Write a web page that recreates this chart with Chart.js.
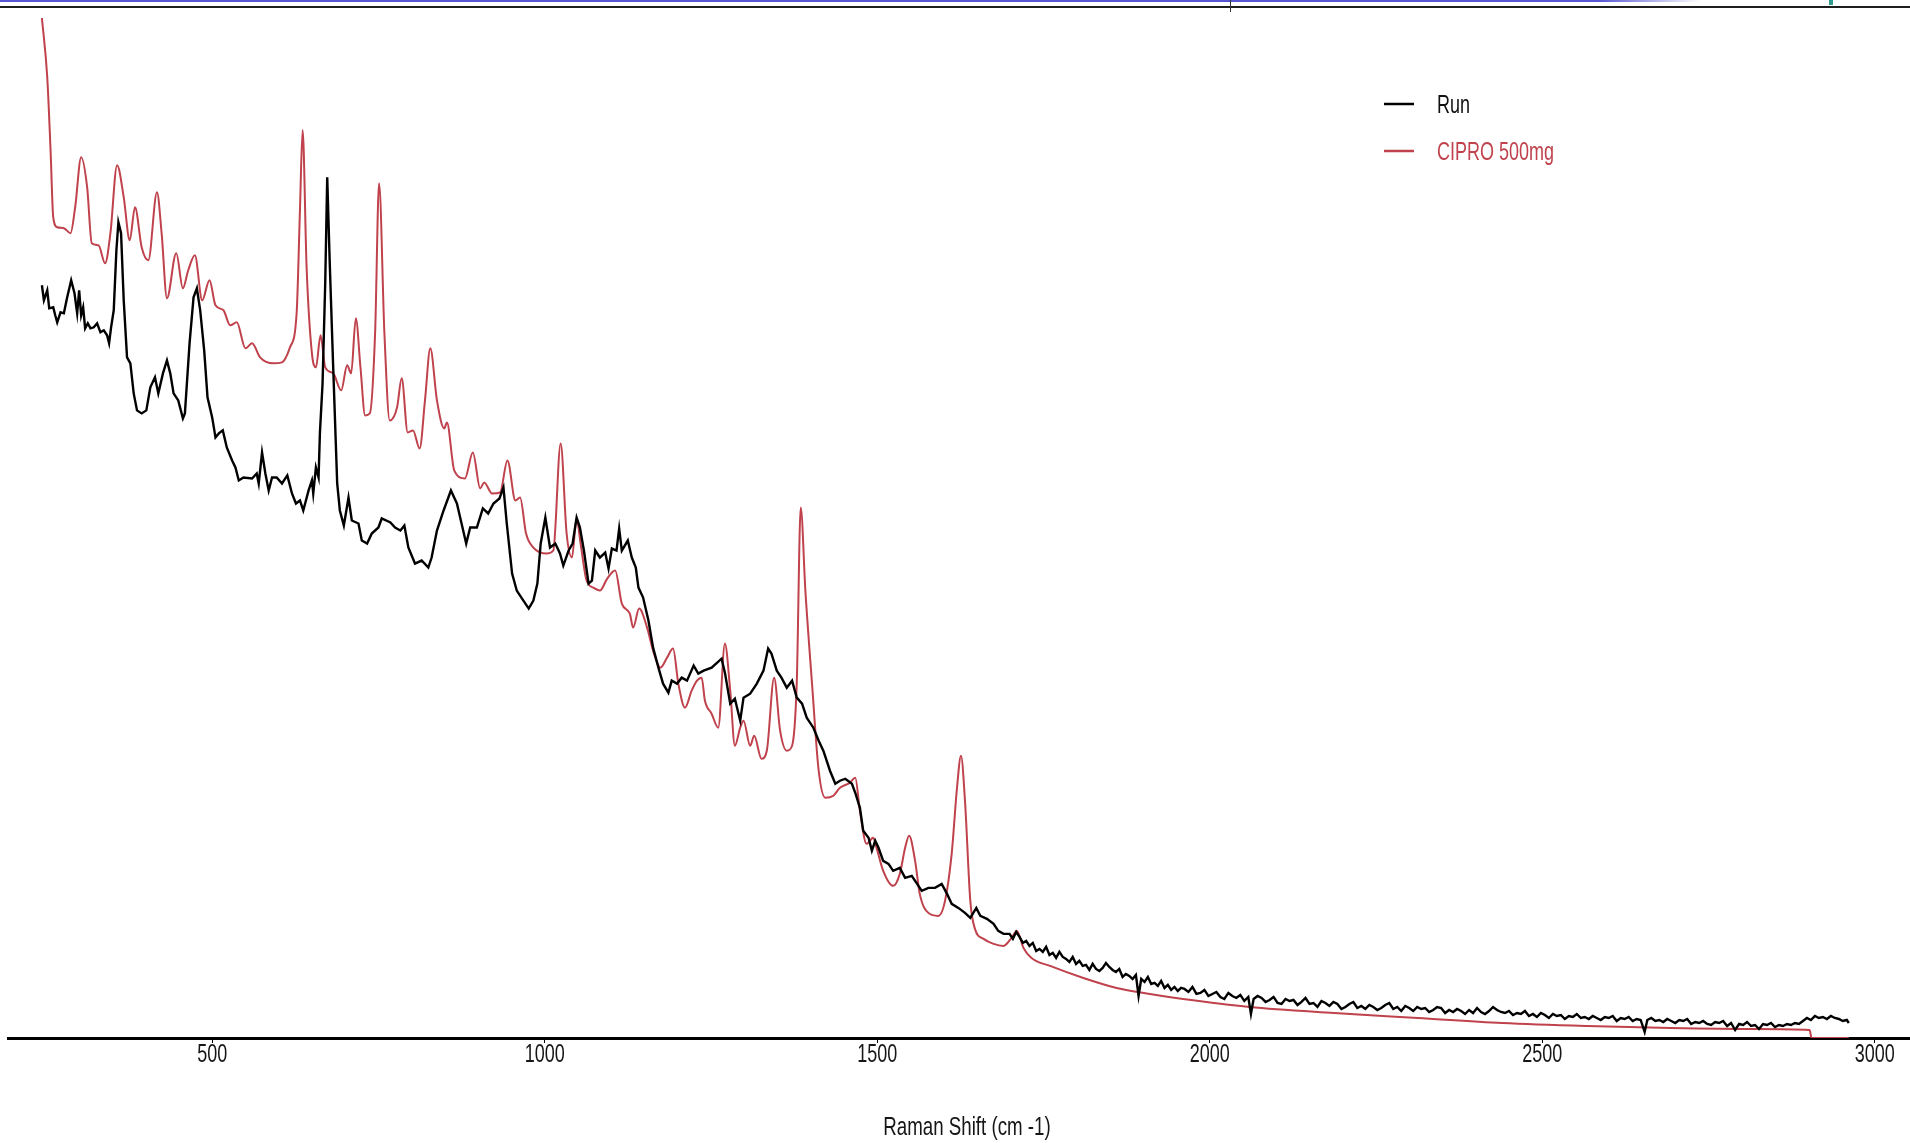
<!DOCTYPE html>
<html>
<head>
<meta charset="utf-8">
<title>Raman spectrum</title>
<script src="https://cdn.jsdelivr.net/npm/chart.js@4.4.1/dist/chart.umd.min.js"></script>
<style>
  html, body { margin: 0; padding: 0; background: #fff; }
  #wrap { position: relative; width: 1910px; height: 1143px; overflow: hidden; }
  .deco { position: absolute; }
</style>
</head>
<body>
<div id="wrap">
  <canvas id="chart" width="1910" height="1143"></canvas>
  <!-- window frame bits along the top edge of the screenshot -->
  <div class="deco" style="left:0;top:0;width:1700px;height:2px;background:linear-gradient(to right,#5656d2 94%,rgba(86,86,210,0));"></div>
  <div class="deco" style="left:0;top:6px;width:1910px;height:2px;background:#1e1e1e;"></div>
  <div class="deco" style="left:1230px;top:0;width:1px;height:12px;background:#333;"></div>
  <div class="deco" style="left:1829px;top:0;width:4px;height:5px;background:#2e9c8c;"></div>
</div>
<script>
// x axis labels
const xTicks = [500, 1000, 1500, 2000, 2500, 3000];
const xTitle = 'Raman Shift (cm -1)';

// series names
const seriesNames = ['Run', 'CIPRO 500mg'];

// Run spectrum: [Raman shift (cm-1), intensity (a.u.)]
const runPoints = [
  [244,752],[247,737],[252,747],[255,729],[261,730],[264,722],[267,715],[272,725],[277,724],[282,740],
  [288,757],[293,744],[297,724],[300,747],[303,722],[306,730],[309,709],[313,714],[317,709],[322,710],
  [327,714],[332,705],[337,707],[342,702],[345,694],[348,710],[352,727],[356,787],[359,815],[363,804],
  [367,737],[372,680],[377,674],[382,644],[387,627],[394,624],[401,627],[407,650],[414,660],[419,644],
  [426,664],[432,677],[437,664],[442,644],[449,637],[456,619],[459,624],[466,694],[472,740],[477,749],
  [482,727],[488,687],[493,640],[500,620],[505,600],[510,604],[516,607],[522,590],[530,577],[535,570],
  [540,557],[547,560],[560,559],[567,564],[570,554],[575,585],[580,564],[585,547],[590,560],[597,560],
  [605,554],[613,562],[620,544],[626,534],[632,537],[637,527],[645,547],[650,557],[652,544],[656,570],
  [660,560],[662,604],[666,654],[670,754],[673,860],[677,770],[682,670],[688,554],[692,527],[698,512],
  [705,540],[710,517],[720,514],[725,497],[733,494],[740,504],[750,510],[755,519],[768,515],[775,510],
  [783,507],[789,512],[795,490],[805,474],[815,477],[825,470],[830,480],[838,507],[848,527],[859,547],
  [868,534],[875,514],[882,494],[888,510],[898,510],[907,529],[915,524],[923,534],[932,539],[938,550],
  [943,514],[951,464],[958,447],[968,437],[976,429],[983,437],[989,454],[994,494],[1001,520],[1008,490],
  [1016,494],[1023,484],[1028,472],[1036,487],[1042,494],[1048,520],[1053,510],[1059,487],[1066,454],[1071,457],
  [1076,487],[1083,480],[1091,485],[1096,469],[1101,489],[1108,487],[1112,509],[1116,487],[1125,497],[1131,480],
  [1137,470],[1141,450],[1148,440],[1156,417],[1163,390],[1171,370],[1178,354],[1186,345],[1191,357],[1199,354],
  [1206,360],[1214,357],[1224,372],[1231,364],[1239,367],[1251,370],[1266,379],[1271,365],[1279,334],[1286,339],
  [1294,317],[1299,340],[1309,344],[1319,354],[1329,367],[1336,389],[1341,384],[1349,367],[1356,360],[1364,350],
  [1372,357],[1379,340],[1387,334],[1394,320],[1404,310],[1412,297],[1419,287],[1429,267],[1437,254],[1444,257],
  [1452,259],[1462,254],[1467,245],[1474,230],[1479,207],[1487,200],[1492,187],[1497,197],[1502,190],[1509,177],
  [1517,174],[1524,167],[1534,170],[1542,160],[1552,162],[1559,155],[1567,147],[1577,150],[1587,150],[1597,154],
  [1605,144],[1612,134],[1622,130],[1632,125],[1640,120],[1649,130],[1655,122],[1665,119],[1675,114],[1682,107],
  [1690,104],[1699,104],[1704,99],[1709,106],[1714,101],[1719,95],[1724,97],[1729,92],[1734,95],[1739,87],
  [1744,89],[1749,86],[1754,91],[1759,83],[1764,85],[1769,80],[1774,86],[1779,81],[1784,79],[1789,76],
  [1794,81],[1799,74],[1804,77],[1809,72],[1814,73],[1819,68],[1824,74],[1829,69],[1834,67],[1839,70],
  [1844,75],[1849,71],[1854,68],[1859,66],[1864,69],[1869,61],[1874,64],[1879,62],[1884,59],[1889,63],
  [1893,42],[1897,59],[1902,56],[1907,61],[1912,54],[1917,55],[1922,52],[1927,57],[1932,50],[1937,53],
  [1942,48],[1947,51],[1952,47],[1957,50],[1962,49],[1968,46],[1974,51],[1980,44],[1986,45],[1992,48],
  [1998,42],[2004,44],[2010,46],[2016,41],[2022,39],[2028,45],[2034,42],[2040,40],[2046,43],[2052,37],
  [2058,41],[2062,24],[2066,39],[2072,42],[2078,40],[2084,36],[2090,38],[2096,41],[2102,35],[2108,34],
  [2114,39],[2120,37],[2126,38],[2132,33],[2138,36],[2144,40],[2150,34],[2156,35],[2162,31],[2168,37],
  [2174,35],[2180,32],[2186,36],[2192,34],[2198,29],[2204,31],[2210,34],[2216,36],[2222,30],[2228,32],
  [2234,29],[2240,33],[2246,31],[2252,28],[2258,30],[2264,33],[2270,35],[2276,29],[2282,31],[2288,27],
  [2294,32],[2300,30],[2306,27],[2312,31],[2318,29],[2324,30],[2330,26],[2336,28],[2342,31],[2348,30],
  [2354,25],[2360,28],[2366,26],[2372,29],[2378,27],[2384,24],[2390,28],[2396,25],[2402,30],[2408,26],
  [2414,24],[2420,27],[2426,31],[2432,28],[2438,26],[2444,25],[2450,27],[2456,23],[2462,25],[2468,24],
  [2474,27],[2480,22],[2486,24],[2492,21],[2498,25],[2504,23],[2510,20],[2516,24],[2522,22],[2528,23],
  [2534,19],[2540,22],[2546,21],[2552,24],[2558,20],[2564,21],[2570,19],[2576,22],[2582,20],[2588,18],
  [2594,21],[2600,20],[2606,22],[2612,17],[2618,20],[2624,19],[2630,21],[2636,17],[2642,19],[2648,18],
  [2654,6],[2658,18],[2664,20],[2670,17],[2676,18],[2682,16],[2688,19],[2694,17],[2700,15],[2706,18],
  [2712,17],[2718,19],[2724,14],[2730,16],[2736,15],[2742,17],[2748,14],[2754,13],[2760,16],[2766,15],
  [2772,17],[2778,12],[2784,15],[2790,8],[2796,14],[2802,13],[2808,16],[2814,12],[2820,13],[2826,9],
  [2832,14],[2838,13],[2844,15],[2850,11],[2856,13],[2862,12],[2868,14],[2874,13],[2880,15],[2886,14],
  [2892,17],[2898,20],[2904,18],[2910,22],[2916,20],[2922,21],[2928,19],[2934,22],[2940,20],[2946,19],
  [2952,17],[2958,18],[2961,15]
];

// CIPRO 500mg reference spectrum: [Raman shift (cm-1), intensity (a.u.)]
const ciproPoints = [
  [244,1019],[252,960],[257,887],[261,820],[267,810],[277,809],[287,804],[294,830],[303,880],[312,850],
  [319,794],[329,792],[339,774],[347,804],[357,872],[367,840],[376,797],[384,830],[394,790],[404,777],
  [417,845],[424,804],[432,739],[446,784],[456,749],[464,767],[474,782],[485,737],[496,757],[505,732],
  [517,727],[527,712],[537,715],[550,689],[560,694],[572,680],[592,674],[605,675],[617,690],[627,724],
  [632,827],[636,907],[642,770],[650,684],[656,670],[663,702],[670,670],[682,664],[694,647],[703,672],
  [709,664],[716,719],[723,670],[730,622],[737,624],[745,704],[751,854],[759,704],[767,617],[778,630],
  [785,659],[794,605],[802,607],[812,589],[820,637],[828,689],[838,637],[849,609],[853,615],[864,567],
  [880,559],[892,585],[903,549],[909,555],[921,544],[933,545],[944,577],[956,537],[963,540],[972,504],
  [983,490],[1003,484],[1013,487],[1024,594],[1033,504],[1041,480],[1048,519],[1054,494],[1063,457],[1073,450],
  [1083,447],[1094,459],[1106,467],[1116,434],[1128,424],[1133,410],[1142,429],[1154,410],[1163,387],[1174,370],
  [1184,380],[1193,389],[1201,354],[1211,330],[1221,347],[1229,357],[1236,360],[1241,337],[1251,324],[1261,310],
  [1271,394],[1279,347],[1286,292],[1294,310],[1299,317],[1309,292],[1315,302],[1326,279],[1334,287],[1345,360],
  [1354,307],[1364,287],[1372,292],[1379,354],[1385,530],[1392,447],[1402,354],[1412,267],[1422,240],[1434,242],
  [1444,250],[1459,255],[1467,260],[1474,227],[1484,194],[1494,200],[1499,190],[1509,167],[1524,152],[1534,164],
  [1542,190],[1548,202],[1557,177],[1564,144],[1577,125],[1592,122],[1602,137],[1612,184],[1620,250],[1626,282],
  [1632,237],[1640,137],[1647,109],[1660,99],[1675,94],[1690,92],[1702,100],[1710,107],[1720,90],[1732,80],
  [1760,72],[1810,60],[1860,50],[1910,44],[1960,39],[2060,31],[2187,25],[2313,20],[2440,15],[2567,12],
  [2693,10],[2820,9],[2902,8],[2905,0],[2961,0]
];

const seriesColors = ['#000000', '#bf424c'];
const textColor = '#161616';
const fontFamily = "'Liberation Sans', Arial, sans-serif";

const toXY = pts => pts.map(p => ({ x: p[0], y: p[1] }));

// the original labels are set in a condensed face; squeeze regular text horizontally
function narrowText(ctx, text, x, y, size, color, align) {
  ctx.save();
  ctx.translate(x, y);
  ctx.scale(0.72, 1);
  ctx.font = size + 'px ' + fontFamily;
  ctx.fillStyle = color;
  ctx.textAlign = align;
  ctx.textBaseline = 'alphabetic';
  ctx.fillText(text, 0, 0);
  ctx.restore();
}

// tick labels, axis title and the in-plot legend
const axisText = {
  id: 'axisText',
  afterDraw(chart) {
    const { ctx, chartArea } = chart;
    const xs = chart.scales.x;
    xTicks.forEach(v => narrowText(ctx, String(v), xs.getPixelForValue(v), xs.top + 24, 25, textColor, 'center'));
    narrowText(ctx, xTitle, (chartArea.left + chartArea.right) / 2 + 8, xs.top + 97, 26, textColor, 'center');

    const x0 = chartArea.left + 1376;
    chart.data.datasets.forEach((ds, i) => {
      const y = chartArea.top + 94 + i * 47;
      ctx.save();
      ctx.strokeStyle = ds.borderColor;
      ctx.lineWidth = 2.5;
      ctx.beginPath();
      ctx.moveTo(x0, y);
      ctx.lineTo(x0 + 30, y);
      ctx.stroke();
      ctx.restore();
      narrowText(ctx, ds.label, x0 + 53, y + 9, 25, i === 0 ? '#111' : ds.borderColor, 'left');
    });
  }
};

new Chart(document.getElementById('chart'), {
  type: 'line',
  data: {
    datasets: [
      {
        label: seriesNames[0],
        data: toXY(runPoints),
        borderColor: seriesColors[0],
        borderWidth: 2.4,
        pointRadius: 0,
        tension: 0
      },
      {
        label: seriesNames[1],
        data: toXY(ciproPoints),
        borderColor: seriesColors[1],
        borderWidth: 2,
        pointRadius: 0,
        cubicInterpolationMode: 'monotone'
      }
    ]
  },
  options: {
    responsive: false,
    animation: false,
    layout: { padding: { top: 10, left: 8, right: 0, bottom: 100 } },
    plugins: {
      legend: { display: false },
      tooltip: { enabled: false }
    },
    scales: {
      x: {
        type: 'linear',
        min: 193,
        max: 3053,
        afterBuildTicks: axis => { axis.ticks = xTicks.map(v => ({ value: v })); },
        grid: { drawOnChartArea: false, drawTicks: true, tickLength: 5, color: '#000' },
        border: { color: '#000', width: 3 },
        ticks: { display: false },
        title: { display: false }
      },
      y: { display: false, min: 0, max: 1027 }
    }
  },
  plugins: [axisText]
});
</script>
</body>
</html>
